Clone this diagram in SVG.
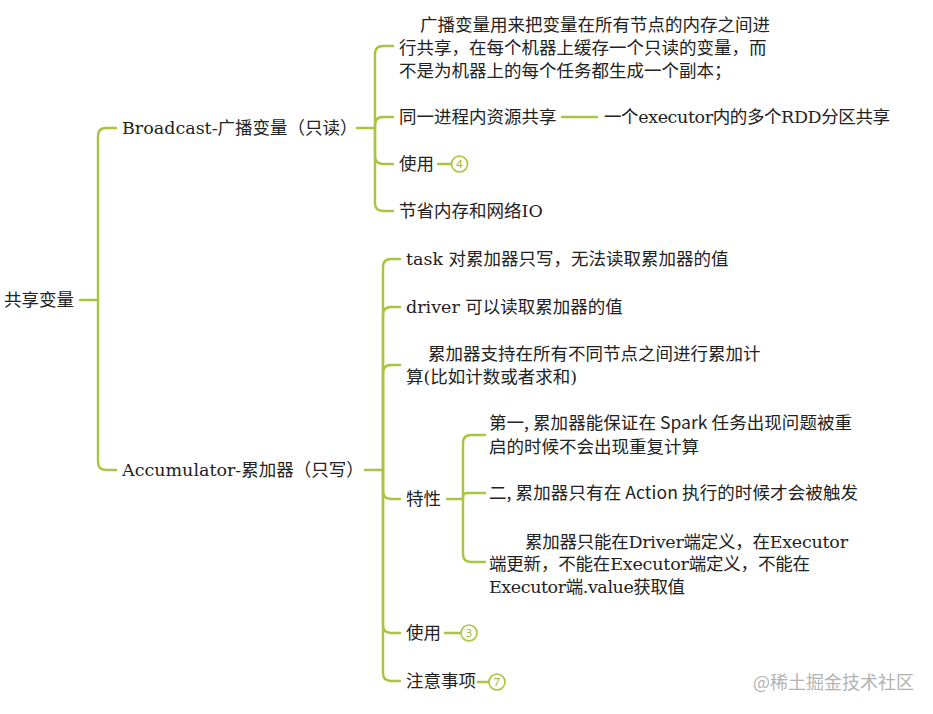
<svg xmlns="http://www.w3.org/2000/svg" width="933" height="714" viewBox="0 0 933 714">
<defs>
<style>
.t{font-family:"DejaVu Serif","Noto Sans CJK SC",serif;font-size:17.5px;fill:#222}
.s{font-family:"Noto Sans CJK SC","Noto Sans",sans-serif;font-size:17.5px;fill:#222}
.c path{fill:none;stroke:#a9c43e;stroke-width:2.4;stroke-linecap:round}
.b circle{fill:#fff;stroke:#a9c43e;stroke-width:1.6}
.b text{font-family:"Noto Sans",sans-serif;font-size:11px;fill:#9ab634;text-anchor:middle}
.wm{font-family:"Noto Sans CJK SC",sans-serif;font-size:18px;fill:#b3b3b3}
</style>
</defs>
<rect width="933" height="714" fill="#fff"/>

<g id="connectors" class="c">
  <path d="M80,300 H98"/>
  <path d="M98,300 V136 Q98,128 106,128 H116"/>
  <path d="M98,300 V462 Q98,470 106,470 H116"/>
  <path d="M357,128 H375"/>
  <path d="M375,128 V54 Q375,46 383,46 H393"/>
  <path d="M375,128 V125 Q375,117 383,117 H393"/>
  <path d="M375,128 V156 Q375,164 383,164 H393"/>
  <path d="M375,128 V203 Q375,211 383,211 H393"/>
  <path d="M562,117 H597"/>
  <path d="M438,164 H451"/>
  <path d="M365,470 H383"/>
  <path d="M383,470 V267 Q383,259 391,259 H400"/>
  <path d="M383,470 V315 Q383,307 391,307 H400"/>
  <path d="M383,470 V373 Q383,365 391,365 H400"/>
  <path d="M383,470 V491 Q383,499 391,499 H400"/>
  <path d="M383,470 V625 Q383,633 391,633 H400"/>
  <path d="M383,470 V673 Q383,681 391,681 H400"/>
  <path d="M447,499 H463"/>
  <path d="M463,499 V443 Q463,435 471,435 H485"/>
  <path d="M463,499 V497 Q463,493 467,493 H485"/>
  <path d="M463,499 V554 Q463,562 471,562 H485"/>
  <path d="M445,633 H461"/>
  <path d="M478,682 H489"/>
</g>

<g id="root"><text class="t" x="4" y="306">共享变量</text></g>

<g id="broadcast"><text class="t" x="122" y="134">Broadcast-广播变量（只读）</text></g>

<g id="b-desc">
  <text class="t" x="420" y="31">广播变量用来把变量在所有节点的内存之间进</text>
  <text class="t" x="399" y="54">行共享，在每个机器上缓存一个只读的变量，而</text>
  <text class="t" x="399" y="77">不是为机器上的每个任务都生成一个副本；</text>
</g>
<g id="b-share"><text class="t" x="399" y="123">同一进程内资源共享</text></g>
<g id="b-share-detail"><text class="t" x="604" y="123" textLength="286" lengthAdjust="spacing">一个executor内的多个RDD分区共享</text></g>
<g id="b-use"><text class="t" x="399" y="170">使用</text></g>
<g id="b-use-badge" class="b"><circle cx="459.5" cy="164" r="8"/><text x="459.5" y="168">4</text></g>
<g id="b-save"><text class="t" x="399" y="217">节省内存和网络IO</text></g>

<g id="accumulator"><text class="t" x="122" y="476">Accumulator-累加器（只写）</text></g>

<g id="a-task"><text class="t" x="406" y="265">task 对累加器只写，无法读取累加器的值</text></g>
<g id="a-driver"><text class="t" x="406" y="313">driver 可以读取累加器的值</text></g>
<g id="a-support">
  <text class="t" x="428" y="360">累加器支持在所有不同节点之间进行累加计</text>
  <text class="t" x="406" y="383">算(比如计数或者求和)</text>
</g>
<g id="a-feature"><text class="t" x="406" y="505">特性</text></g>
<g id="f-first">
  <text class="s" x="489" y="429" textLength="363" lengthAdjust="spacing">第一, 累加器能保证在 Spark 任务出现问题被重</text>
  <text class="s" x="489" y="453">启的时候不会出现重复计算</text>
</g>
<g id="f-second"><text class="s" x="489" y="499" textLength="369" lengthAdjust="spacing">二, 累加器只有在 Action 执行的时候才会被触发</text></g>
<g id="f-third">
  <text class="t" x="525" y="548" textLength="323" lengthAdjust="spacing">累加器只能在Driver端定义，在Executor</text>
  <text class="t" x="489" y="570" textLength="321" lengthAdjust="spacing">端更新，不能在Executor端定义，不能在</text>
  <text class="t" x="489" y="593" textLength="196" lengthAdjust="spacing">Executor端.value获取值</text>
</g>
<g id="a-use"><text class="t" x="406" y="639">使用</text></g>
<g id="a-use-badge" class="b"><circle cx="469" cy="633" r="8"/><text x="469" y="637">3</text></g>
<g id="a-note"><text class="t" x="406" y="687">注意事项</text></g>
<g id="a-note-badge" class="b"><circle cx="497" cy="682" r="8"/><text x="497" y="686">7</text></g>

<text class="wm" x="753" y="689">@稀土掘金技术社区</text>
</svg>
